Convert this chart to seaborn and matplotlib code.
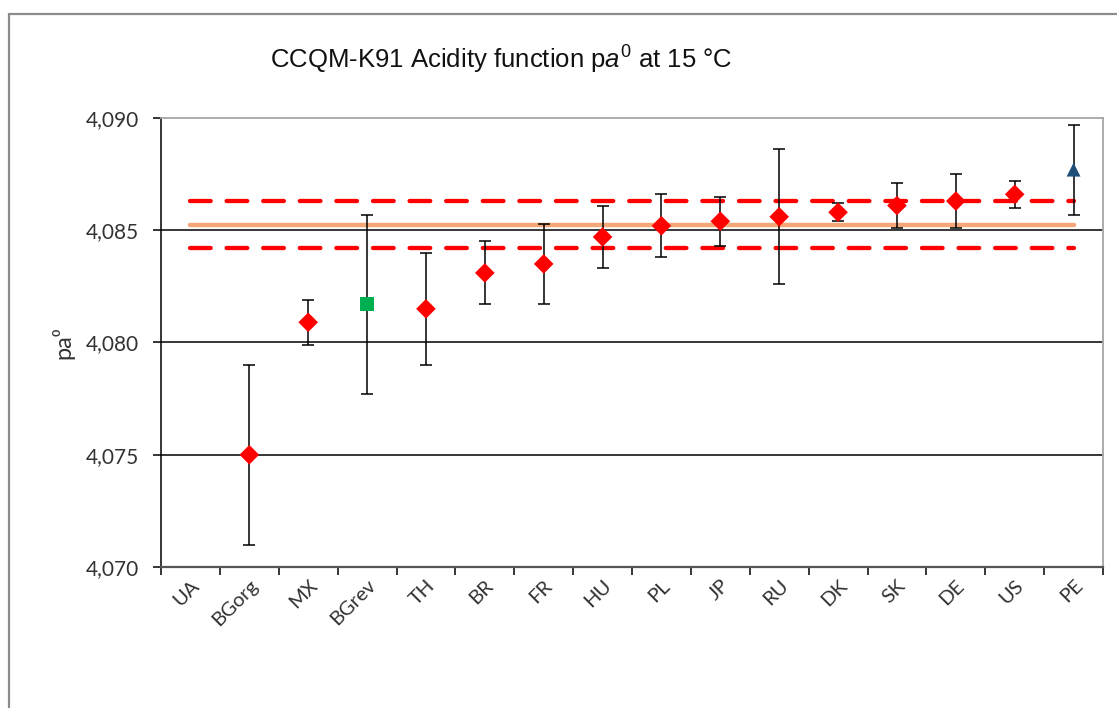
import numpy as np
import pandas as pd
import matplotlib
matplotlib.use("Agg")
import matplotlib.pyplot as plt
import matplotlib.patches as mpatches
from matplotlib.ticker import FuncFormatter, FixedLocator
import seaborn as sns

# Participants, in reported order
labs = ["UA", "BGorg", "MX", "BGrev", "TH", "BR", "FR", "HU",
        "PL", "JP", "RU", "DK", "SK", "DE", "US", "PE"]
# Reported pa0 values and expanded uncertainties
values = [np.nan, 4.0750, 4.0809, 4.0817, 4.0815, 4.0831, 4.0835, 4.0847,
          4.0852, 4.0854, 4.0856, 4.0858, 4.0861, 4.0863, 4.0866, 4.0877]
uncert = [np.nan, 0.0040, 0.0010, 0.0040, 0.0025, 0.0014, 0.0018, 0.0014,
          0.0014, 0.0011, 0.0030, 0.0004, 0.0010, 0.0012, 0.0006, 0.0020]
groups = ["lab"] * 3 + ["revised"] + ["lab"] * 11 + ["pilot"]

# Key comparison reference value and its expanded uncertainty
kcrv = 4.08525
kcrv_U = 0.00106

yticks = [4.070, 4.075, 4.080, 4.085, 4.090]

df = pd.DataFrame({"lab": labs, "value": values, "U": uncert, "group": groups})
df["pos"] = np.arange(len(labs))

sns.set_style("white")
plt.rcParams["font.family"] = ["Lato", "DejaVu Sans"]
plt.rcParams["mathtext.fontset"] = "custom"
plt.rcParams["mathtext.rm"] = "Liberation Sans"
plt.rcParams["mathtext.it"] = "Liberation Sans:italic"

fig = plt.figure(figsize=(11.17, 7.08), dpi=100)
ax = fig.add_axes([161 / 1117, 1 - 567 / 708, (1103 - 161) / 1117, (567 - 118) / 708])

# Outer chart frame
fig.patches.append(mpatches.Rectangle((9 / 1117, -0.2), 1.2, 1 - 14 / 708 + 0.2,
                                      transform=fig.transFigure, fill=False,
                                      edgecolor="#8c8c8c", lw=1.6, zorder=0))

# Horizontal gridlines
for t in yticks[1:-1]:
    ax.axhline(t, color="black", lw=1.1, zorder=1)

# Reference value and its uncertainty band limits
xr = [df["pos"].iloc[0], df["pos"].iloc[-1]]
sns.lineplot(x=xr, y=[kcrv, kcrv], color="#F4A878", lw=3.2, ax=ax, zorder=2)
for yy in (kcrv + kcrv_U, kcrv - kcrv_U):
    ax.plot(xr, [yy, yy], color="#FF0000", lw=3.1, dashes=(4.8, 3.7),
            solid_capstyle="butt", dash_capstyle="round", zorder=2)

# Uncertainty bars
ok = df.dropna()
ax.errorbar(ok["pos"], ok["value"], yerr=ok["U"], fmt="none", ecolor="black",
            elinewidth=1.1, capsize=4.4, capthick=1.1, zorder=3)

# Results
sns.scatterplot(data=ok, x="pos", y="value", hue="group", style="group",
                palette={"lab": "#FF0000", "revised": "#00B050", "pilot": "#1F4E79"},
                markers={"lab": "D", "revised": "s", "pilot": "^"},
                s=100, edgecolor="none", legend=False, ax=ax, zorder=4)

ax.set_xlim(-0.5, len(labs) - 0.5)
ax.set_ylim(yticks[0], yticks[-1])

ax.set_xticks(df["pos"])
ax.set_xticklabels(labs, rotation=45, ha="right", rotation_mode="anchor",
                   fontsize=14.5, color="#333333")
ax.xaxis.set_minor_locator(FixedLocator(np.arange(-0.5, len(labs), 1.0)))
ax.tick_params(axis="x", which="major", length=0, pad=7)
ax.tick_params(axis="x", which="minor", length=6, width=1.1, color="black",
               direction="out", bottom=True)

ax.set_yticks(yticks)
ax.yaxis.set_major_formatter(FuncFormatter(lambda v, p: f"{v:.3f}".replace(".", ",")))
ax.tick_params(axis="y", length=6, width=1.1, color="black", direction="out",
               left=True, labelsize=15, labelcolor="#333333", pad=10)

ax.set_xlabel("")
ax.set_ylabel("pa⁰", fontsize=17, color="#333333", labelpad=8)

for side in ("top", "right"):
    ax.spines[side].set_color("#a6a6a6")
    ax.spines[side].set_linewidth(1.3)
ax.spines["left"].set_color("black")
ax.spines["left"].set_linewidth(1.1)
ax.spines["bottom"].set_color("#555555")
ax.spines["bottom"].set_linewidth(1.6)

fig.text(501 / 1117, 1 - 60 / 708,
         r"CCQM-K91 Acidity function p$\mathit{a}^{\mathrm{0}}$ at 15 °C",
         family="Liberation Sans", fontsize=18.5, color="#111111",
         ha="center", va="center")

fig.savefig("out.png", dpi=100, facecolor="white")
